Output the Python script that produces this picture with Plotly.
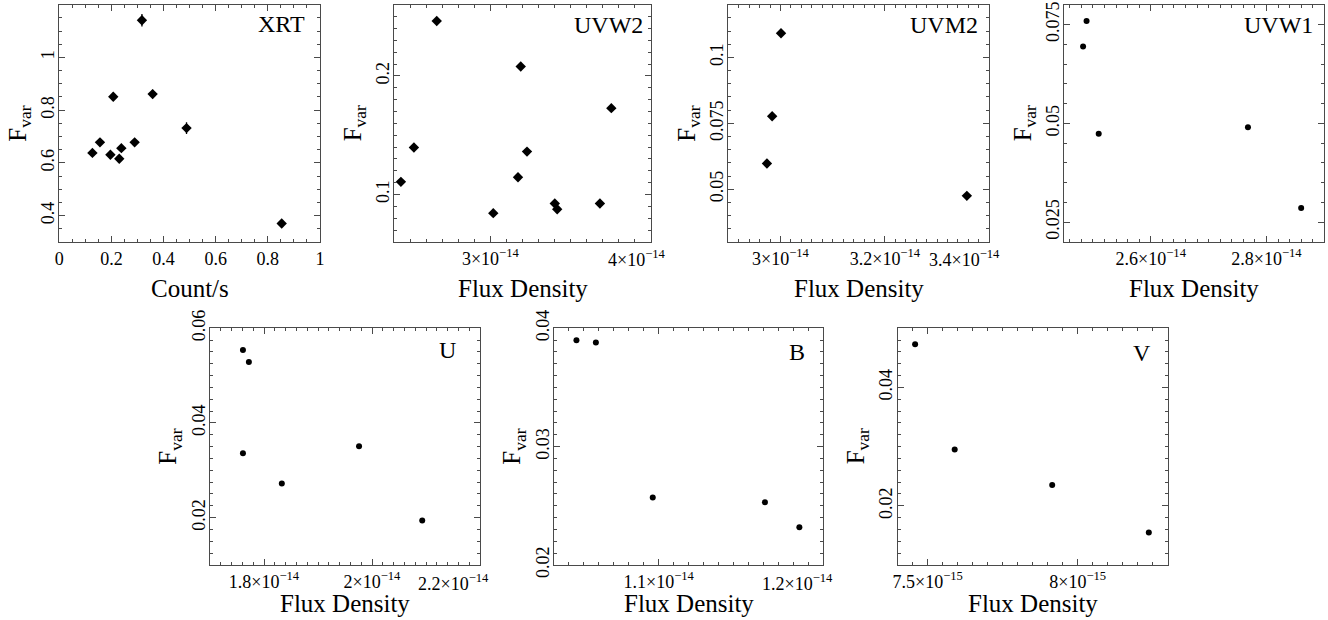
import plotly.graph_objects as go

# ---------------- data ----------------
panel_names = ["XRT", "UVW2", "UVM2", "UVW1", "U", "B", "V"]

xrt_rate = [0.127, 0.156, 0.196, 0.207, 0.230, 0.238, 0.289, 0.317, 0.358, 0.488, 0.853]
xrt_fvar = [0.638, 0.678, 0.631, 0.851, 0.616, 0.656, 0.678, 1.141, 0.861, 0.732, 0.370]
xrt_fvar_err = [0.012, 0.012, 0.012, 0.016, 0.012, 0.012, 0.012, 0.024, 0.016, 0.022, 0.010]
xrt_rate_err = [0.005, 0.005, 0.005, 0.005, 0.005, 0.005, 0.005, 0.006, 0.005, 0.008, 0.008]

uvw2_flux = [2.443e-14, 2.524e-14, 2.666e-14, 3.018e-14, 3.172e-14, 3.189e-14,
             3.228e-14, 3.401e-14, 3.416e-14, 3.682e-14, 3.753e-14]
uvw2_fvar = [0.1107, 0.1396, 0.2463, 0.0843, 0.1146, 0.2079, 0.1362, 0.0924, 0.0876, 0.0924, 0.1728]

uvm2_flux = [2.974e-14, 2.984e-14, 3.001e-14, 3.357e-14]
uvm2_fvar = [0.0598, 0.0777, 0.1092, 0.0475]

uvw1_flux = [2.483e-14, 2.489e-14, 2.510e-14, 2.768e-14, 2.860e-14]
uvw1_fvar = [0.0694, 0.0759, 0.0474, 0.0490, 0.0286]

u_flux = [1.761e-14, 1.772e-14, 1.761e-14, 1.833e-14, 1.976e-14, 2.093e-14]
u_fvar = [0.0554, 0.0529, 0.0336, 0.0272, 0.0351, 0.0194]

b_flux = [1.045e-14, 1.058e-14, 1.096e-14, 1.171e-14, 1.194e-14]
b_fvar = [0.0390, 0.0388, 0.0257, 0.0253, 0.0232]

v_flux = [7.458e-15, 7.590e-15, 7.915e-15, 8.237e-15]
v_fvar = [0.0473, 0.0295, 0.0235, 0.0155]

# tick values / labels
xrt_xticks = [0, 0.2, 0.4, 0.6, 0.8, 1]
xrt_xlabels = ["0", "0.2", "0.4", "0.6", "0.8", "1"]
xrt_yticks = [0.4, 0.6, 0.8, 1.0]
xrt_ylabels = ["0.4", "0.6", "0.8", "1"]

uvw2_xticks = [3e-14]
uvw2_xlabels = ["3×10<sup>−14</sup>"]
uvw2_yticks = [0.1, 0.2]
uvw2_ylabels = ["0.1", "0.2"]

uvm2_xticks = [3e-14, 3.2e-14]
uvm2_xlabels = ["3×10<sup>−14</sup>", "3.2×10<sup>−14</sup>"]
uvm2_yticks = [0.05, 0.075, 0.1]
uvm2_ylabels = ["0.05", "0.075", "0.1"]

uvw1_xticks = [2.6e-14, 2.8e-14]
uvw1_xlabels = ["2.6×10<sup>−14</sup>", "2.8×10<sup>−14</sup>"]
uvw1_yticks = [0.025, 0.05, 0.075]
uvw1_ylabels = ["0.025", "0.05", "0.075"]

u_xticks = [1.8e-14, 2.0e-14]
u_xlabels = ["1.8×10<sup>−14</sup>", "2×10<sup>−14</sup>"]
u_yticks = [0.02, 0.04, 0.06]
u_ylabels = ["0.02", "0.04", "0.06"]

b_xticks = [1.1e-14]
b_xlabels = ["1.1×10<sup>−14</sup>"]
b_yticks = [0.02, 0.03, 0.04]
b_ylabels = ["0.02", "0.03", "0.04"]

v_xticks = [7.5e-15, 8e-15]
v_xlabels = ["7.5×10<sup>−15</sup>", "8×10<sup>−15</sup>"]
v_yticks = [0.02, 0.04]
v_ylabels = ["0.02", "0.04"]

# edge tick labels drawn shifted inward (as in the original figure)
edge_tick_panels = ["UVW2", "UVM2", "U", "B"]
edge_tick_labels = ["4×10<sup>−14</sup>", "3.4×10<sup>−14</sup>", "2.2×10<sup>−14</sup>", "1.2×10<sup>−14</sup>"]

x_titles = ["Count/s", "Flux Density", "Flux Density", "Flux Density",
            "Flux Density", "Flux Density", "Flux Density"]
y_title = "F<sub>var</sub>"

# ---------------- layout geometry (pixels) ----------------
W, H = 1328, 620
FONT = "Liberation Serif"

panels = [
    dict(x=xrt_rate, y=xrt_fvar, xt=xrt_xticks, xl=xrt_xlabels, yt=xrt_yticks, yl=xrt_ylabels,
         xr=[0, 1], yr=[0.3, 1.2], xm=0.05, ym=0.05,
         px=(59.3, 320, 4.7, 242), sym="diamond", size=8),
    dict(x=uvw2_flux, y=uvw2_fvar, xt=uvw2_xticks, xl=uvw2_xlabels, yt=uvw2_yticks, yl=uvw2_ylabels,
         xr=[2.4e-14, 4.0e-14], yr=[0.06, 0.26], xm=1e-15, ym=0.01,
         px=(394, 651, 4.7, 242), sym="diamond", size=8),
    dict(x=uvm2_flux, y=uvm2_fvar, xt=uvm2_xticks, xl=uvm2_xlabels, yt=uvm2_yticks, yl=uvm2_ylabels,
         xr=[2.9e-14, 3.4e-14], yr=[0.03, 0.12], xm=2e-16, ym=0.005,
         px=(728.3, 989.3, 4.7, 242), sym="diamond", size=8),
    dict(x=uvw1_flux, y=uvw1_fvar, xt=uvw1_xticks, xl=uvw1_xlabels, yt=uvw1_yticks, yl=uvw1_ylabels,
         xr=[2.45e-14, 2.9e-14], yr=[0.02, 0.08], xm=2e-16, ym=0.005,
         px=(1064, 1324.3, 4.7, 242), sym="circle", size=6),
    dict(x=u_flux, y=u_fvar, xt=u_xticks, xl=u_xlabels, yt=u_yticks, yl=u_ylabels,
         xr=[1.7e-14, 2.2e-14], yr=[0.01, 0.06], xm=2e-16, ym=0.0025,
         px=(210, 480, 328.3, 565), sym="circle", size=6),
    dict(x=b_flux, y=b_fvar, xt=b_xticks, xl=b_xlabels, yt=b_yticks, yl=b_ylabels,
         xr=[1.03e-14, 1.21e-14], yr=[0.02, 0.04], xm=1e-16, ym=0.001,
         px=(554, 823.3, 328.3, 565), sym="circle", size=6),
    dict(x=v_flux, y=v_fvar, xt=v_xticks, xl=v_xlabels, yt=v_yticks, yl=v_ylabels,
         xr=[7.4e-15, 8.3e-15], yr=[0.01, 0.05], xm=5e-17, ym=0.002,
         px=(897.7, 1167.7, 328.3, 565), sym="circle", size=6),
]

label_pos = {  # panel name label: right edge x px, center y px
    "XRT": (307, 24), "UVW2": (645, 25), "UVM2": (980, 25), "UVW1": (1315, 25),
    "U": (458, 350), "B": (807, 352), "V": (1153, 353),
}
edge_label_x = {"UVW2": 637, "UVM2": 964, "U": 453, "B": 797}


def fx(p):
    return p / W


def fy(p):
    return 1 - p / H


fig = go.Figure()
annotations = []
frame_col = "#4a4a4a"

for i, (name, p) in enumerate(zip(panel_names, panels)):
    k = "" if i == 0 else str(i + 1)
    l, r, t, b = p["px"]
    tr = dict(x=p["x"], y=p["y"], mode="markers", xaxis="x" + k, yaxis="y" + k,
              marker=dict(symbol=p["sym"], size=p["size"], color="black", line=dict(width=0)),
              showlegend=False, hoverinfo="x+y")
    if name == "XRT":
        tr["error_y"] = dict(type="data", array=xrt_fvar_err, color="black", thickness=1.3, width=0)
        tr["error_x"] = dict(type="data", array=xrt_rate_err, color="black", thickness=1.3, width=0)
    fig.add_trace(go.Scatter(**tr))

    common = dict(showline=True, linecolor=frame_col, linewidth=1.2, mirror="allticks",
                  ticks="inside", ticklen=6, tickcolor=frame_col, tickwidth=1,
                  showgrid=False, zeroline=False, automargin=False,
                  tickfont=dict(family=FONT, size=18, color="black"))
    fig.layout["xaxis" + k] = dict(
        domain=[fx(l), fx(r)], anchor="y" + k, range=p["xr"],
        tickmode="array", tickvals=p["xt"], ticktext=p["xl"], ticklabelstandoff=0,
        minor=dict(ticks="inside", ticklen=3, tickcolor=frame_col, dtick=p["xm"], tick0=0),
        **common)
    fig.layout["yaxis" + k] = dict(
        domain=[fy(b), fy(t)], anchor="x" + k, range=p["yr"],
        tickmode="array", tickvals=p["yt"], ticktext=p["yl"], tickangle=-90,
        ticklabelstandoff=-3,
        minor=dict(ticks="inside", ticklen=3, tickcolor=frame_col, dtick=p["ym"], tick0=0),
        **common)

    # x axis title
    row_title_y = 288 if b < 300 else 603
    annotations.append(dict(text=x_titles[i], x=fx((l + r) / 2), y=fy(row_title_y),
                            xref="paper", yref="paper", showarrow=False,
                            xanchor="center", yanchor="middle",
                            font=dict(family=FONT, size=25, color="black")))
    # y axis title
    annotations.append(dict(text=y_title, x=fx(l - 40), y=fy((t + b) / 2),
                            xref="paper", yref="paper", showarrow=False, textangle=-90,
                            xanchor="center", yanchor="middle",
                            font=dict(family=FONT, size=25, color="black")))
    # panel label
    lx, ly = label_pos[name]
    annotations.append(dict(text=name, x=fx(lx), y=fy(ly), xref="paper", yref="paper",
                            showarrow=False, xanchor="right", yanchor="middle",
                            font=dict(family=FONT, size=24, color="black")))
    # shifted edge tick label
    if name in edge_tick_panels:
        j = edge_tick_panels.index(name)
        row_tick_y = 258 if b < 300 else 582
        annotations.append(dict(text=edge_tick_labels[j], x=fx(edge_label_x[name]), y=fy(row_tick_y),
                                xref="paper", yref="paper", showarrow=False,
                                xanchor="center", yanchor="middle",
                                font=dict(family=FONT, size=18, color="black")))

fig.update_layout(width=W, height=H, margin=dict(l=0, r=0, t=0, b=0, autoexpand=False),
                  paper_bgcolor="white", plot_bgcolor="white",
                  annotations=annotations, font=dict(family=FONT))

fig.write_html("out.html", config={"displayModeBar": False},
               post_script="document.body.style.margin='0';document.body.style.overflow='hidden';")
